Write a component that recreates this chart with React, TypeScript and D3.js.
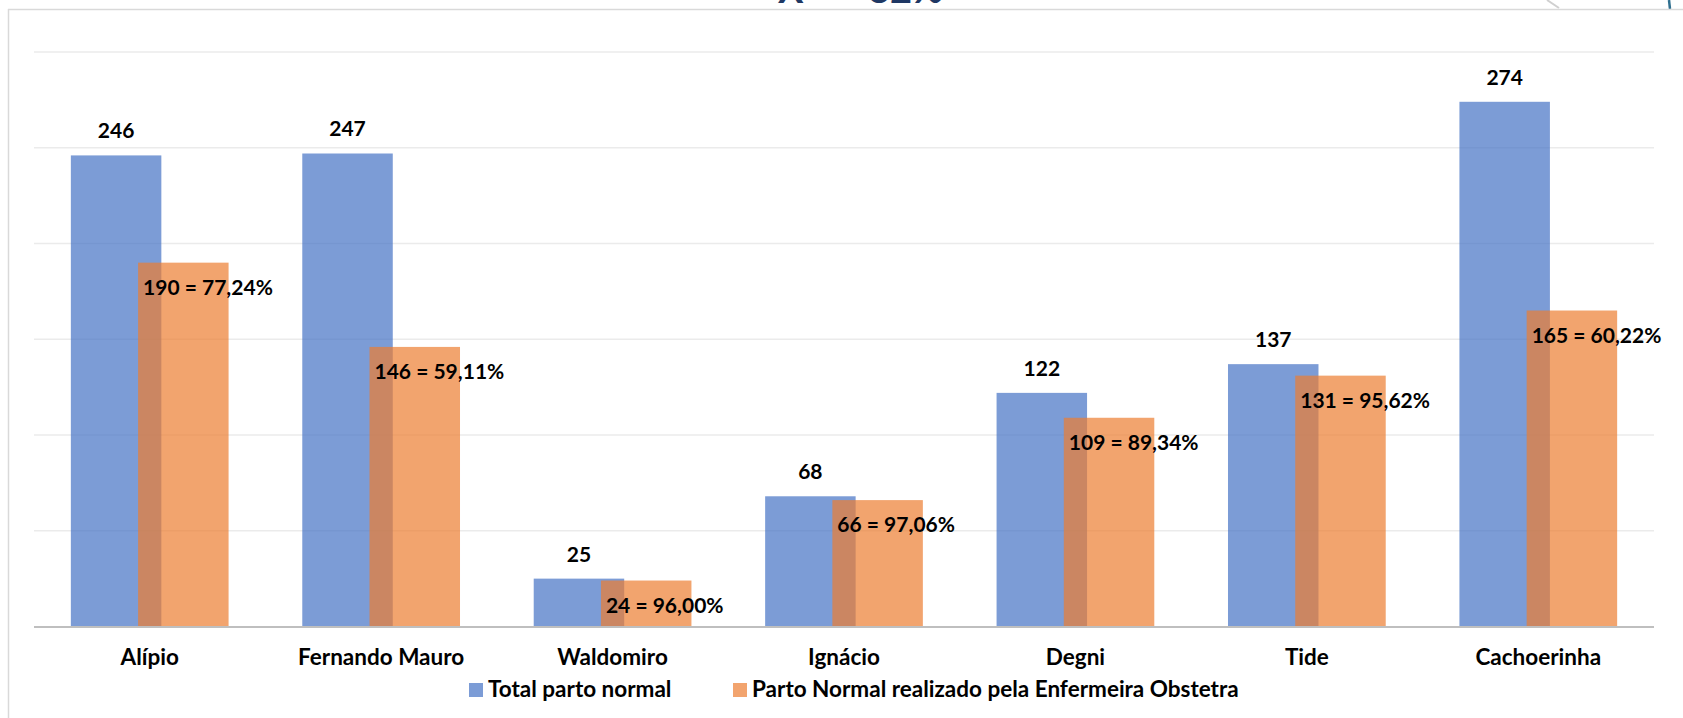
import React from "react";
import * as d3 from "d3";

const categories = ["Alípio", "Fernando Mauro", "Waldomiro", "Ignácio", "Degni", "Tide", "Cachoerinha"];
const totalPartoNormal = [246, 247, 25, 68, 122, 137, 274];
const partoEnfermeira = [190, 146, 24, 66, 109, 131, 165];
const percentLabels = ["77,24%", "59,11%", "96,00%", "97,06%", "89,34%", "95,62%", "60,22%"];
const seriesNames = ["Total parto normal", "Parto Normal realizado pela Enfermeira Obstetra"];
const gridValues = [50, 100, 150, 200, 250, 300];

const W = 1683;
const H = 718;
const FONT = "Lato, 'Open Sans', sans-serif";
const BLUE = "#4472C4";
const ORANGE = "#ED7D31";
const ALPHA = 0.7;

export default function App() {
  const x = d3.scaleBand<string>().domain(categories).range([34, 1654]).padding(0);
  const y = d3.scaleLinear().domain([0, 300]).range([626.5, 52]);
  const bw = x.bandwidth();
  const barW = bw * 0.391;
  const step = barW * 0.743;
  const groupW = barW + step;
  const off = (bw - groupW) / 2;

  return (
    <svg width={W} height={H} style={{ position: "absolute", left: 0, top: 0, background: "#fff" }}>
      <rect x={0} y={0} width={W} height={H} fill="#fff" />
      {/* title (clipped at top, as in the reference) */}
      <text x={778} y={3} fontFamily={FONT} fontWeight={700} fontSize={38} fill="#1F3864">X̄ =</text>
      <text x={868} y={3} fontFamily={FONT} fontWeight={700} fontSize={38} fill="#1F3864">82%</text>
      {/* decorative lines top right */}
      <line x1={1547} y1={0} x2={1559} y2={8} stroke="#d0d0d0" strokeWidth={2} />
      <line x1={1669} y1={0} x2={1670} y2={9} stroke="#2f6f8f" strokeWidth={2.5} />
      {/* frame */}
      <line x1={8} y1={9.5} x2={W} y2={9.5} stroke="#d9d9d9" strokeWidth={1.5} />
      <line x1={8.5} y1={9} x2={8.5} y2={H} stroke="#d9d9d9" strokeWidth={1.5} />
      {/* gridlines */}
      {gridValues.map((v) => (
        <line key={v} x1={34} x2={1654} y1={y(v)} y2={y(v)} stroke="#ebebeb" strokeWidth={1.5} />
      ))}
      {/* blue bars */}
      {categories.map((c, i) => (
        <rect key={"b" + c} x={(x(c) as number) + off} y={y(totalPartoNormal[i])} width={barW}
          height={y(0) - y(totalPartoNormal[i])} fill={BLUE} fillOpacity={ALPHA} />
      ))}
      {/* orange bars */}
      {categories.map((c, i) => (
        <rect key={"o" + c} x={(x(c) as number) + off + step} y={y(partoEnfermeira[i])} width={barW}
          height={y(0) - y(partoEnfermeira[i])} fill={ORANGE} fillOpacity={ALPHA} />
      ))}
      {/* axis */}
      <line x1={34} x2={1654} y1={y(0) + 0.5} y2={y(0) + 0.5} stroke="#bfbfbf" strokeWidth={2} />
      {/* blue labels */}
      {categories.map((c, i) => (
        <text key={"bl" + c} x={(x(c) as number) + off + barW / 2} y={y(totalPartoNormal[i]) - 17}
          textAnchor="middle" fontFamily={FONT} fontWeight={700} fontSize={21} fill="#000">
          {totalPartoNormal[i]}
        </text>
      ))}
      {/* orange labels */}
      {categories.map((c, i) => (
        <text key={"ol" + c} x={(x(c) as number) + off + step + 5} y={y(partoEnfermeira[i]) + 32}
          fontFamily={FONT} fontWeight={700} fontSize={21} fill="#000">
          {`${partoEnfermeira[i]} = ${percentLabels[i]}`}
        </text>
      ))}
      {/* category labels */}
      {categories.map((c) => (
        <text key={"c" + c} x={(x(c) as number) + bw / 2} y={665} textAnchor="middle"
          fontFamily={FONT} fontWeight={700} fontSize={22.5} fill="#000">
          {c}
        </text>
      ))}
      {/* legend */}
      <rect x={469} y={683} width={14} height={14} fill={BLUE} fillOpacity={ALPHA} />
      <text x={488} y={697} fontFamily={FONT} fontWeight={700} fontSize={22.5} fill="#000">{seriesNames[0]}</text>
      <rect x={733} y={683} width={14} height={14} fill={ORANGE} fillOpacity={ALPHA} />
      <text x={752} y={697} fontFamily={FONT} fontWeight={700} fontSize={22.5} fill="#000">{seriesNames[1]}</text>
    </svg>
  );
}
